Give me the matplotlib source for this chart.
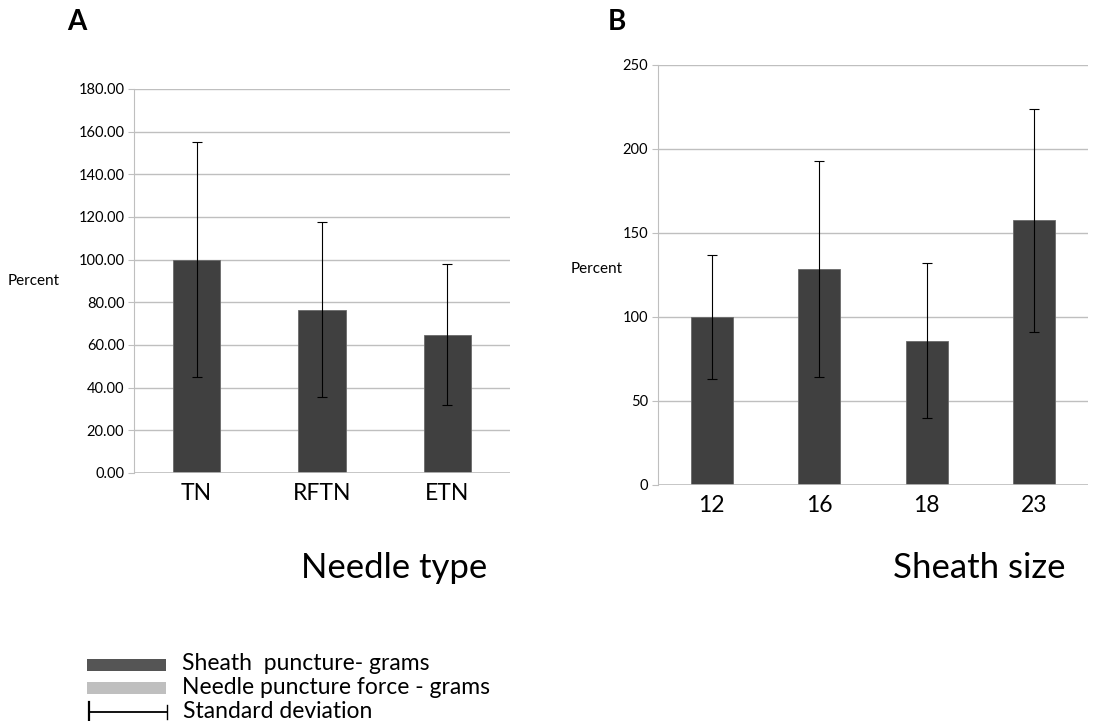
import matplotlib.pyplot as plt
from matplotlib.patches import Rectangle
from matplotlib.lines import Line2D

plt.rcParams['font.family'] = ['Lato', 'DejaVu Sans']

# panel A data
needle_types = ["TN", "RFTN", "ETN"]
needle_vals = [100.0, 76.5, 64.8]
needle_sd = [55.0, 41.0, 33.0]

# panel B data
sheath_sizes = ["12", "16", "18", "23"]
sheath_vals = [100.0, 128.5, 86.0, 157.6]
sheath_sd = [37.0, 64.3, 46.2, 66.4]

W, H = 1115, 721
fig = plt.figure(figsize=(W / 100, H / 100), dpi=100)


def box(l, t, r, b):
    return [l / W, 1 - b / H, (r - l) / W, (b - t) / H]


bar_col = "#404040"
grid_col = "#bfbfbf"


def style(ax):
    for s in ["top", "right", "bottom"]:
        ax.spines[s].set_visible(False)
    ax.spines["left"].set_color(grid_col)
    ax.yaxis.grid(True, color=grid_col, lw=1)
    ax.set_axisbelow(True)
    ax.tick_params(axis="y", length=4, color=grid_col, pad=3, labelsize=10.5)
    ax.tick_params(axis="x", length=0, pad=7, labelsize=16.5)


# A
axA = fig.add_axes(box(134, 89, 510, 473))
xa = range(len(needle_types))
axA.bar(xa, needle_vals, width=0.38, color=bar_col, edgecolor="#6a6a6a", lw=0.6,
        yerr=needle_sd, error_kw=dict(ecolor="black", elinewidth=0.8, capsize=3.5, capthick=0.8))
axA.set_xlim(-0.5, 2.5)
axA.set_ylim(0, 180)
axA.set_yticks(range(0, 181, 20))
axA.set_yticklabels([f"{v:.2f}" for v in range(0, 181, 20)])
axA.set_xticks(list(xa))
axA.set_xticklabels(needle_types)
style(axA)
axA.axhline(0, color=grid_col, lw=1.2)

# B
axB = fig.add_axes(box(658, 65, 1088, 485))
xb = range(len(sheath_sizes))
axB.bar(xb, sheath_vals, width=0.39, color=bar_col, edgecolor="#6a6a6a", lw=0.6,
        yerr=sheath_sd, error_kw=dict(ecolor="black", elinewidth=0.8, capsize=3.5, capthick=0.8))
axB.set_xlim(-0.5, 3.5)
axB.set_ylim(0, 250)
axB.set_yticks(range(0, 251, 50))
axB.set_xticks(list(xb))
axB.set_xticklabels(sheath_sizes)
style(axB)
axB.axhline(0, color=grid_col, lw=1.2)

# texts
fig.text(77 / W, 1 - 22 / H, "A", fontsize=20, fontweight="bold", ha="center", va="center")
fig.text(617 / W, 1 - 22 / H, "B", fontsize=20, fontweight="bold", ha="center", va="center")
fig.text(8 / W, 1 - 281 / H, "Percent", fontsize=11, va="center")
fig.text(571 / W, 1 - 269 / H, "Percent", fontsize=11, va="center")
fig.text(394 / W, 1 - 568 / H, "Needle type", fontsize=25, ha="center", va="center")
fig.text(979 / W, 1 - 568 / H, "Sheath size", fontsize=25, ha="center", va="center")

# legend
fig.add_artist(Rectangle((87 / W, 1 - 671 / H), 79 / W, 12 / H, transform=fig.transFigure,
                         facecolor="#555555", edgecolor="none"))
fig.add_artist(Rectangle((87 / W, 1 - 694 / H), 79 / W, 12 / H, transform=fig.transFigure,
                         facecolor="#bfbfbf", edgecolor="none"))
fig.add_artist(Line2D([89 / W, 167 / W], [1 - 712 / H] * 2, transform=fig.transFigure, color="black", lw=1.3))
fig.add_artist(Line2D([89 / W] * 2, [1 - 702 / H, 1 - 721 / H], transform=fig.transFigure, color="black", lw=1.6))
fig.add_artist(Line2D([167 / W] * 2, [1 - 705 / H, 1 - 719 / H], transform=fig.transFigure, color="black", lw=1))
fig.text(182 / W, 1 - 664 / H, "Sheath  puncture- grams", fontsize=16.5, va="center")
fig.text(182 / W, 1 - 688 / H, "Needle puncture force - grams", fontsize=16.5, va="center")
fig.text(183 / W, 1 - 711 / H, "Standard deviation", fontsize=16.5, va="center")

fig.savefig("out.png", dpi=100)
